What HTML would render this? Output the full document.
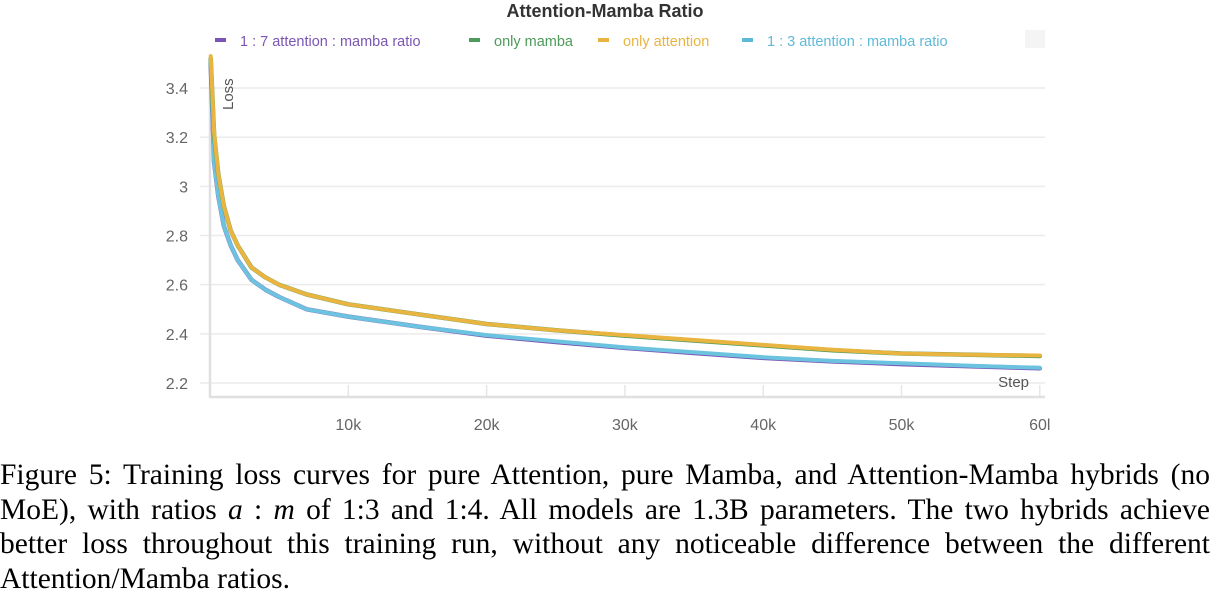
<!DOCTYPE html>
<html><head><meta charset="utf-8"><style>
html,body{margin:0;padding:0;background:#fff;width:1210px;height:594px;overflow:hidden}
svg{position:absolute;left:0;top:0}
#cap{position:absolute;left:0;top:458px;width:1210px;font-family:"Liberation Serif",serif;font-size:29.5px;line-height:34.5px;color:#000}
#cap .j{text-align:justify;text-align-last:justify;white-space:nowrap}
#cap div{height:34.5px}
</style></head><body>
<svg width="1210" height="450">
<g id="g"></g>
</svg>
<div id="cap">
<div class="j">Figure 5: Training loss curves for pure Attention, pure Mamba, and Attention-Mamba hybrids (no</div>
<div class="j">MoE), with ratios <i>a</i> : <i>m</i> of 1:3 and 1:4. All models are 1.3B parameters. The two hybrids achieve</div>
<div class="j">better loss throughout this training run, without any noticeable difference between the different</div>
<div>Attention/Mamba ratios.</div>
</div>
<script>
const steps=[0.05,0.3,0.6,1,1.5,2,3,4,5,7,10,15,20,25,30,35,40,45,50,55,60];
const mamba=[3.52,3.21,3.05,2.92,2.82,2.76,2.67,2.63,2.60,2.56,2.52,2.48,2.44,2.415,2.393,2.373,2.353,2.333,2.32,2.315,2.31];
const attention=[3.53,3.22,3.05,2.92,2.82,2.76,2.67,2.63,2.60,2.56,2.52,2.48,2.44,2.415,2.395,2.375,2.355,2.335,2.32,2.315,2.312];
const ratio17=[3.50,3.10,2.96,2.84,2.76,2.70,2.62,2.58,2.55,2.50,2.47,2.43,2.393,2.367,2.343,2.322,2.302,2.288,2.277,2.268,2.26];
const ratio13=[3.50,3.10,2.96,2.84,2.76,2.70,2.62,2.58,2.55,2.50,2.47,2.43,2.395,2.37,2.345,2.325,2.305,2.29,2.28,2.27,2.262];
const yTicks=[2.2,2.4,2.6,2.8,3,3.2,3.4];
const yTickLabels=["2.2","2.4","2.6","2.8","3","3.2","3.4"];
const xTicks=[10,20,30,40,50,60];
const xTickLabels=["10k","20k","30k","40k","50k","60l"];
const NS="http://www.w3.org/2000/svg";
const g=document.getElementById('g');
const X=v=>210+v*13.83;
const Y=v=>383-(v-2.2)*245.8;
function mk(t,a,p){const e=document.createElementNS(NS,t);for(const k in a)e.setAttribute(k,a[k]);(p||g).appendChild(e);return e;}
const title=mk('text',{x:605,y:17,'text-anchor':'middle','font-family':'Liberation Sans, sans-serif','font-size':18,'font-weight':'bold',fill:'#333'});
title.textContent='Attention-Mamba Ratio';


yTicks.forEach((t,i)=>{
 const l=mk('line',{x1:200,x2:1045,y1:Y(t),y2:Y(t),stroke:'#ebebeb','stroke-width':1.5});
 
 
 const tx=mk('text',{x:188,y:Y(t)+6,'text-anchor':'end','font-family':'Liberation Sans, sans-serif','font-size':16,fill:'#666'});
 tx.textContent=yTickLabels[i];
 
 
});
xTicks.forEach((t,i)=>{
 const l=mk('line',{x1:X(t),x2:X(t),y1:385,y2:396,stroke:'#e6e6e6','stroke-width':1.5});
 
 
 const tx=mk('text',{x:X(t),y:430,'text-anchor':'middle','font-family':'Liberation Sans, sans-serif','font-size':16,fill:'#666'});
 tx.textContent=xTickLabels[i];
 
 
});
const ax=mk('line',{x1:209,x2:1045,y1:397,y2:397,stroke:'#e0e0e0','stroke-width':2.5});


const ay=mk('line',{x1:210,x2:210,y1:60,y2:397,stroke:'#e0e0e0','stroke-width':2.5});


const yl=mk('text',{x:0,y:0,transform:'translate(233,110) rotate(-90)','font-family':'Liberation Sans, sans-serif','font-size':15,fill:'#555'});
yl.textContent='Loss';


const xl=mk('text',{x:1029,y:387,'text-anchor':'end','font-family':'Liberation Sans, sans-serif','font-size':15,fill:'#555'});
xl.textContent='Step';


function line(vals,color,w,name){
 const d=steps.map((s,i)=>(i?'L':'M')+X(s).toFixed(1)+','+Y(vals[i]).toFixed(1)).join('');
 const p=mk('path',{d:d,fill:'none',stroke:color,'stroke-width':w,'stroke-linejoin':'round','stroke-linecap':'round'});
 
 
}
line(ratio17,'#7a55b5',4.5,'series-1-7-ratio');
line(ratio13,'#6cc3df',4,'series-1-3-ratio');
line(mamba,'#4d9a5a',4.5,'series-only-mamba');
line(attention,'#e9b43f',4,'series-only-attention');
const leg=[['1 : 7 attention : mamba ratio','#7a55b5',215],['only mamba','#4d9a5a',469],['only attention','#e9b43f',598],['1 : 3 attention : mamba ratio','#5fb9d9',742]];
leg.forEach(([t,c,x])=>{
 const r=mk('rect',{x:x,y:38,width:11,height:4,fill:c});
 
 
 const tx=mk('text',{x:x+25,y:46,'font-family':'Liberation Sans, sans-serif','font-size':14.5,fill:c});
 tx.textContent=t;
 
 
});
const bx=mk('rect',{x:1025,y:30,width:20,height:18,fill:'#f4f4f4'});


</script>
</body></html>
